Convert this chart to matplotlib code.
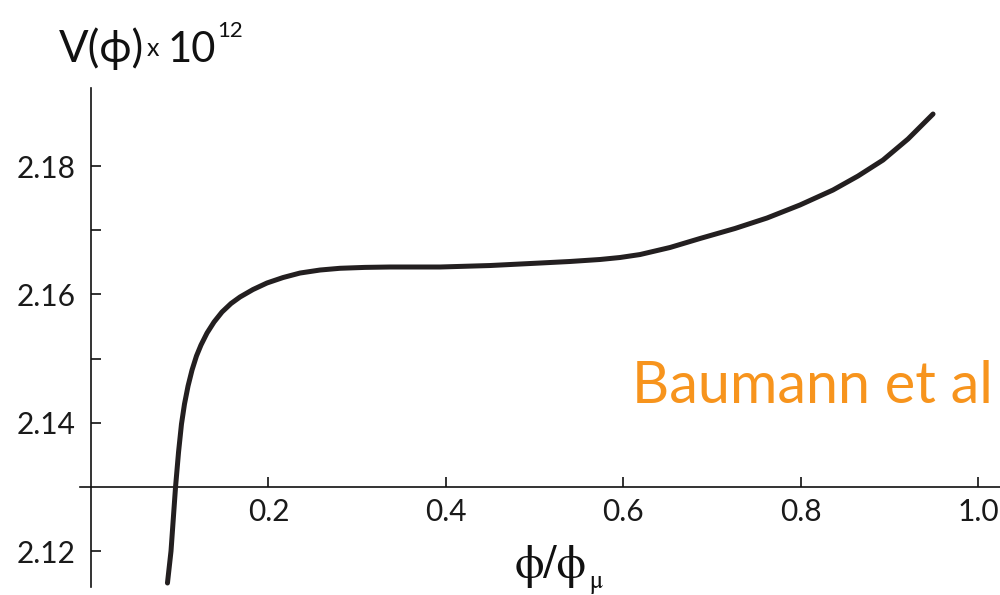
import matplotlib
matplotlib.use("Agg")
import matplotlib.pyplot as plt

# ---- data ----
phi_ratio = [0.0862, 0.0902, 0.0953, 0.0987, 0.1020, 0.1054, 0.1094, 0.1139,
             0.1189, 0.1240, 0.1308, 0.1387, 0.1477, 0.1578, 0.1680, 0.1826,
             0.1984, 0.2165, 0.2356, 0.2582, 0.2807, 0.3089, 0.3371, 0.3935,
             0.4498, 0.5062, 0.5400, 0.5738, 0.5964, 0.6189, 0.6528, 0.6866,
             0.7260, 0.7621, 0.7993, 0.8365, 0.8647, 0.8929, 0.9211, 0.9493]
V_vals = [2.11505, 2.12003, 2.13000, 2.13545, 2.13981, 2.14293, 2.14573,
          2.14822, 2.15041, 2.15212, 2.15399, 2.15570, 2.15726, 2.15858,
          2.15960, 2.16076, 2.16178, 2.16263, 2.16333, 2.16380, 2.16407,
          2.16421, 2.16427, 2.16427, 2.16450, 2.16489, 2.16513, 2.16544,
          2.16575, 2.16621, 2.16731, 2.16871, 2.17027, 2.17190, 2.17393,
          2.17626, 2.17844, 2.18093, 2.18421, 2.18810]
x_ticks = [0.2, 0.4, 0.6, 0.8, 1.0]
x_tick_labels = ["0.2", "0.4", "0.6", "0.8", "1.0"]
y_ticks = [2.12, 2.14, 2.16, 2.18]
y_tick_labels = ["2.12", "2.14", "2.16", "2.18"]
y_minor = [2.15, 2.17]
annotation = "Baumann et al"

SANS = ["Lato", "DejaVu Sans"]
SERIF = ["STIXGeneral", "DejaVu Serif"]
plt.rcParams["font.family"] = SANS

W, H = 1000, 595
fig = plt.figure(figsize=(W / 100, H / 100), dpi=100)
ax = fig.add_axes([0, 0, 1, 1])
ax.set_facecolor("none")
fig.patch.set_facecolor("white")

ax.set_xlim(-0.1026, 1.0248)
ax.set_ylim(2.11318, 2.20586)

ax.plot(phi_ratio, V_vals, color="#231f20", lw=3.6, solid_capstyle="round",
        solid_joinstyle="round", zorder=3)

for s in ["top", "right"]:
    ax.spines[s].set_visible(False)
ax.spines["left"].set_position(("data", 0.0))
ax.spines["left"].set_bounds(2.11442, 2.19215)
ax.spines["bottom"].set_position(("data", 2.13))
ax.spines["bottom"].set_bounds(-0.0124, 1.03)
for s in ["left", "bottom"]:
    ax.spines[s].set_linewidth(1.2)
    ax.spines[s].set_color("#111111")

ax.set_xticks(x_ticks)
ax.set_xticklabels(x_tick_labels)
ax.set_yticks(y_ticks)
ax.set_yticklabels(y_tick_labels)
ax.set_yticks(y_minor, minor=True)
ax.tick_params(axis="both", which="both", direction="in", length=7.5,
               width=1.2, color="#111111", labelcolor="#1a1a1a", labelsize=21.5)
ax.tick_params(axis="y", which="major", pad=11)
ax.tick_params(axis="x", which="major", pad=8)

def fx(px):
    return px / W

def fy(py):
    return 1 - py / H

# y-axis title pieces
fig.text(fx(59), fy(62), "V(ϕ)", fontsize=31.5, family=SANS, va="baseline",
         ha="left", color="#111111")
fig.text(fx(147), fy(56), "x", fontsize=18, family=SANS, va="baseline",
         ha="left", color="#111111")
fig.text(fx(168), fy(62), "10", fontsize=30, family=SANS, va="baseline",
         ha="left", color="#111111")
fig.text(fx(217), fy(37), "12", fontsize=16, family=SANS, va="baseline",
         ha="left", color="#111111")

# x-axis title: ϕ/ϕ with subscript μ
main = fig.text(fx(515), fy(578), "ϕ/ϕ", fontsize=34, family=SERIF,
                va="baseline", ha="left", color="#111111")
fig.canvas.draw()
bb = main.get_window_extent()
fig.text((bb.x1 + 3) / W, fy(588), "μ", fontsize=18, family=SERIF,
         va="baseline", ha="left", color="#111111")

# annotation
fig.text(fx(632), fy(403), annotation, fontsize=41.5, family=SANS,
         va="baseline", ha="left", color="#F7941D")

fig.savefig("out.png", dpi=100)
